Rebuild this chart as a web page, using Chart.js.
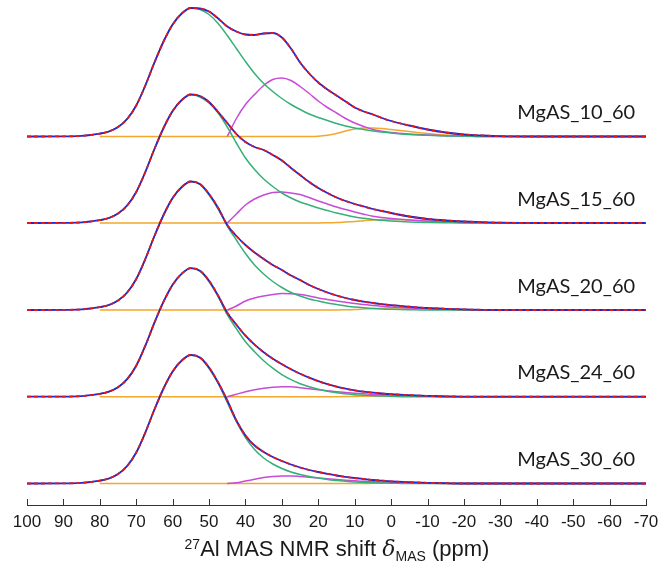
<!DOCTYPE html>
<html>
<head>
<meta charset="utf-8">
<script src="https://cdn.jsdelivr.net/npm/chart.js@4.4.1/dist/chart.umd.min.js"></script>
<style>
  html, body { margin: 0; padding: 0; background: #fff; }
  #wrap { position: relative; width: 670px; height: 568px; }
  #xtitle {
    position: absolute; left: 0; width: 670px; top: 536px; line-height: 24px;
    text-align: center; font: 22px "Liberation Sans", Arial, sans-serif; color: #1a1a1a;
    padding-left: 2px;
  }
  #xtitle sup, #xtitle sub { font-size: 14px; }
  #xtitle sup { vertical-align: 7px; }
  #xtitle sub { vertical-align: -5px; }
</style>
</head>
<body>
<div id="wrap">
  <canvas id="nmr" width="670" height="568"></canvas>
  <div id="xtitle"><sup>27</sup>Al MAS NMR shift <i style="font-family:'DejaVu Serif',serif">δ</i><sub>MAS</sub> (ppm)</div>
</div>
<script>
// chemical shift grid (ppm), denser where the lines change quickly
const ppm = [100, 90, 85, 82.5, 80, 77.5, 75, 72.5, 70, 67.5, 65, 62.5, 60, 57.5, 55, 52.5,
             50, 47.5, 45, 42.5, 40, 37.5, 35, 32.5, 30, 27.5, 25, 22.5, 20, 17.5, 15, 12.5,
             10, 7.5, 5, 2.5, 0, -5, -10, -15, -20, -25, -30, -40, -50, -60, -70];

const samples = ['MgAS_10_60', 'MgAS_15_60', 'MgAS_20_60', 'MgAS_24_60', 'MgAS_30_60'];

// total fitted intensity (same trace as the measured spectrum)
const totals = [
  [0, 0.1, 0.6, 1.5, 2.8, 5, 9.5, 17.5, 31, 51, 74, 95, 112, 123, 128.5,
   128, 125, 118, 110, 105, 102, 101.5, 103, 103.5, 99, 88, 74, 63, 54, 47, 41, 35,
   29, 25, 22, 18.5, 15.5, 11, 7, 4, 2, 1, 0.3, 0, 0, 0, 0],
  [0, 0.1, 0.6, 1.5, 2.8, 5, 9.5, 17.5, 31, 51, 74, 95, 112, 123, 128.5,
   127, 121, 111, 100, 89, 81, 76, 73, 68, 62.5, 55, 48, 41, 35, 30, 25.5, 22,
   19, 16.5, 14, 12, 10, 6.5, 4, 2.5, 1.5, 0.8, 0.3, 0, 0, 0, 0],
  [0, 0.1, 0.6, 1.5, 2.8, 5, 9.5, 17.5, 31, 51, 74, 95, 112, 123, 128.5,
   126, 116, 102, 85, 74, 65, 57.5, 51, 45, 40, 34.5, 30, 25, 21, 17.5, 14.5, 12,
   10, 8.3, 7, 5.8, 4.8, 3.3, 2, 1.2, 0.6, 0.2, 0, 0, 0, 0, 0],
  [0, 0.1, 0.6, 1.5, 2.8, 5, 9.5, 17.5, 31, 51, 74, 95, 112, 123, 128.5,
   126, 116, 101, 84, 72, 61, 52, 44.5, 38, 32.5, 27.5, 23, 19, 15.5, 12.5, 10, 8,
   6.3, 5, 4, 3.2, 2.5, 1.5, 0.8, 0.4, 0.1, 0, 0, 0, 0, 0, 0],
  [0, 0.1, 0.6, 1.5, 2.8, 5, 9.5, 17.5, 31, 51, 74, 95, 112, 123, 128.5,
   126, 116, 101, 83, 63, 48, 38, 31.5, 26.5, 22.5, 19, 16, 13.5, 11.5, 9.7, 8, 6.7,
   5.5, 4.5, 3.5, 2.8, 2.2, 1.3, 0.7, 0.3, 0, 0, 0, 0, 0, 0, 0]
];

// Al(IV) component
const alIV = [
  [null, null, null, null, 2.8, 5, 9.5, 17.5, 31, 51, 74, 95, 112, 123, 128.5,
   127, 122, 113, 101, 88, 75, 63, 53, 45, 38, 32, 27, 22.5, 19, 16, 13, 10.5,
   8.5, 7, 5.5, 4.5, 3.5, 2, 1.2, 0.6, 0.3, 0, 0, 0, 0, 0, 0],
  [null, null, null, null, 2.8, 5, 9.5, 17.5, 31, 51, 74, 95, 112, 123, 128.5,
   126, 120, 110, 96, 80, 65, 53.5, 44, 36.5, 30, 25, 21, 18, 15, 12.5, 10, 8,
   6, 4.7, 3.5, 2.7, 2, 1, 0.5, 0.2, 0, 0, 0, 0, 0, 0, 0],
  [null, null, null, null, 2.8, 5, 9.5, 17.5, 31, 51, 74, 95, 112, 123, 128.5,
   125.5, 115, 101, 84, 70, 56.5, 45, 36, 28.5, 22.5, 17.5, 14, 11, 9, 7, 5.5, 4,
   3, 2.2, 1.5, 1, 0.7, 0.3, 0, 0, 0, 0, 0, 0, 0, 0, 0],
  [null, null, null, null, 2.8, 5, 9.5, 17.5, 31, 51, 74, 95, 112, 123, 128.5,
   125.5, 115, 100, 82, 68, 55, 45, 36, 28.5, 22, 17, 13, 10, 7.5, 5.5, 4, 3,
   2, 1.5, 1, 0.7, 0.4, 0, 0, 0, 0, 0, 0, 0, 0, 0, 0],
  [null, null, null, null, 2.8, 5, 9.5, 17.5, 31, 51, 74, 95, 112, 123, 128.5,
   125.5, 115, 100, 81, 62, 46, 34, 25.5, 19.5, 15, 11.5, 9, 7, 5.5, 4, 3, 2.2,
   1.5, 1, 0.7, 0.5, 0.3, 0, 0, 0, 0, 0, 0, 0, 0, 0, 0]
];

// Al(V) component
const alV = [
  [null, null, null, null, null, null, null, null, null, null, null, null, null, null, null,
   null, null, null, 0, 18, 32, 42, 51, 57, 58.5, 56, 50, 43, 35.5, 29, 23.5, 18,
   13.5, 10, 7, 5.3, 4, 2.5, 1.5, 0.8, 0.4, 0, 0, 0, 0, 0, 0],
  [null, null, null, null, null, null, null, null, null, null, null, null, null, null, null,
   null, null, null, 0, 9, 18, 24, 28, 30.5, 31, 30, 28.5, 25.5, 22, 19, 16, 13.5,
   11, 8.8, 6.8, 5.5, 4.5, 3, 2, 1.2, 0.6, 0, 0, 0, 0, 0, 0],
  [null, null, null, null, null, null, null, null, null, null, null, null, null, null, null,
   null, null, null, 0, 4, 9, 12, 14, 15.5, 16.5, 16.3, 15.5, 14, 12, 10.5, 9, 7.7,
   6.5, 5.5, 4.5, 3.7, 3, 2, 1.3, 0.7, 0.3, 0, 0, 0, 0, 0, 0],
  [null, null, null, null, null, null, null, null, null, null, null, null, null, null, null,
   null, null, null, 0, 2.5, 5, 7, 8.5, 9.5, 10, 10, 9, 8, 7, 6, 5, 4.2,
   3.5, 2.9, 2.3, 1.9, 1.5, 0.8, 0.4, 0, 0, 0, 0, 0, 0, 0, 0],
  [null, null, null, null, null, null, null, null, null, null, null, null, null, null, null,
   null, null, null, 0, 0.7, 2.5, 4.2, 6, 7, 7.5, 7.5, 7, 6.3, 5.5, 4.7, 4, 3.3,
   2.7, 2.2, 1.7, 1.3, 1, 0.5, 0.2, 0, 0, 0, 0, 0, 0, 0, 0]
];

// Al(VI) component
const alVI = [
  [null, null, null, null, 0, 0, 0, 0, 0, 0, 0, 0, 0, 0, 0,
   0, 0, 0, 0, 0, 0, 0, 0, 0, 0, 0, 0, 0, 0.2, 1.2, 3, 5.5,
   7.5, 8.5, 8.5, 8, 7, 5, 3, 1.5, 0.7, 0.3, 0, 0, 0, 0, 0],
  [null, null, null, null, 0, 0, 0, 0, 0, 0, 0, 0, 0, 0, 0,
   0, 0, 0, 0, 0, 0, 0, 0, 0, 0, 0, 0, 0, 0, 0.2, 0.5, 1,
   1.5, 2.3, 3, 3.4, 3.5, 3, 2, 1, 0.5, 0.2, 0, 0, 0, 0, 0],
  [null, null, null, null, 0, 0, 0, 0, 0, 0, 0, 0, 0, 0, 0,
   0, 0, 0, 0, 0, 0, 0, 0, 0, 0, 0, 0, 0, 0, 0, 0, 0.2,
   0.5, 1, 1.5, 1.8, 2, 2, 1.3, 0.7, 0.3, 0, 0, 0, 0, 0, 0],
  [null, null, null, null, 0, 0, 0, 0, 0, 0, 0, 0, 0, 0, 0,
   0, 0, 0, 0, 0, 0, 0, 0, 0, 0, 0, 0, 0, 0, 0, 0, 0.1,
   0.3, 0.4, 0.5, 0.7, 0.8, 0.8, 0.5, 0.2, 0, 0, 0, 0, 0, 0, 0],
  [null, null, null, null, 0, 0, 0, 0, 0, 0, 0, 0, 0, 0, 0,
   0, 0, 0, 0, 0, 0, 0, 0, 0, 0, 0, 0, 0, 0, 0, 0, 0,
   0, 0, 0.2, 0.3, 0.5, 0.5, 0.3, 0, 0, 0, 0, 0, 0, 0, 0]
];

// vertical stacking of the spectra
const offsets = [347, 260.5, 173.5, 86.8, 0];

function trace(values, k, color, order, width, dash) {
  return {
    data: ppm.map((x, i) => ({ x: x, y: values[i] === null ? null : offsets[k] + values[i] })),
    borderColor: color,
    borderWidth: width,
    borderDash: dash || [],
    pointRadius: 0,
    cubicInterpolationMode: 'monotone',
    spanGaps: false,
    order: order
  };
}

const datasets = [];
samples.forEach((name, k) => {
  datasets.push(trace(alVI[k], k, '#f2a72e', 5, 1.5));
  datasets.push(trace(alV[k], k, '#c84bd6', 4, 1.5));
  datasets.push(trace(alIV[k], k, '#35b078', 3, 1.5));
  datasets.push(trace(totals[k], k, '#2626c8', 2, 1.8));
  datasets.push(trace(totals[k], k, '#e0181f', 1, 1.8, [4, 3]));
});

// short tick marks pointing up from the axis line
const innerTicks = {
  id: 'innerTicks',
  afterDraw(chart) {
    const sx = chart.scales.x;
    const ctx = chart.ctx;
    ctx.save();
    ctx.strokeStyle = '#333';
    ctx.lineWidth = 1;
    sx.ticks.forEach(t => {
      const px = Math.round(sx.getPixelForValue(t.value)) + 0.5;
      ctx.beginPath();
      ctx.moveTo(px, sx.top);
      ctx.lineTo(px, sx.top - 6);
      ctx.stroke();
    });
    ctx.restore();
  }
};

// sample names above each baseline
const sampleLabels = {
  id: 'sampleLabels',
  afterDatasetsDraw(chart) {
    const { ctx, scales: { x, y } } = chart;
    ctx.save();
    ctx.font = '20px Lato, "Open Sans", sans-serif';
    ctx.fillStyle = '#1a1a1a';
    ctx.textAlign = 'right';
    ctx.textBaseline = 'alphabetic';
    samples.forEach((name, k) => {
      ctx.fillText(name, x.getPixelForValue(-67), y.getPixelForValue(offsets[k] + 17.5));
    });
    ctx.restore();
  }
};

new Chart(document.getElementById('nmr'), {
  type: 'line',
  data: { datasets: datasets },
  options: {
    responsive: false,
    animation: false,
    events: [],
    layout: { padding: { left: 27, right: 24, top: 5, bottom: 0 } },
    plugins: { legend: { display: false }, tooltip: { enabled: false } },
    scales: {
      x: {
        type: 'linear',
        reverse: true,
        min: -70,
        max: 100,
        grid: { display: false, drawTicks: false },
        border: { display: true, color: '#333', width: 1 },
        ticks: {
          stepSize: 10,
          padding: 7,
          color: '#1a1a1a',
          font: { family: '"Liberation Sans", Arial, sans-serif', size: 17 }
        },
        afterFit(scale) { scale.height = 63; }
      },
      y: {
        display: false,
        min: -21.5,
        max: 478.5
      }
    }
  },
  plugins: [innerTicks, sampleLabels]
});
</script>
</body>
</html>
